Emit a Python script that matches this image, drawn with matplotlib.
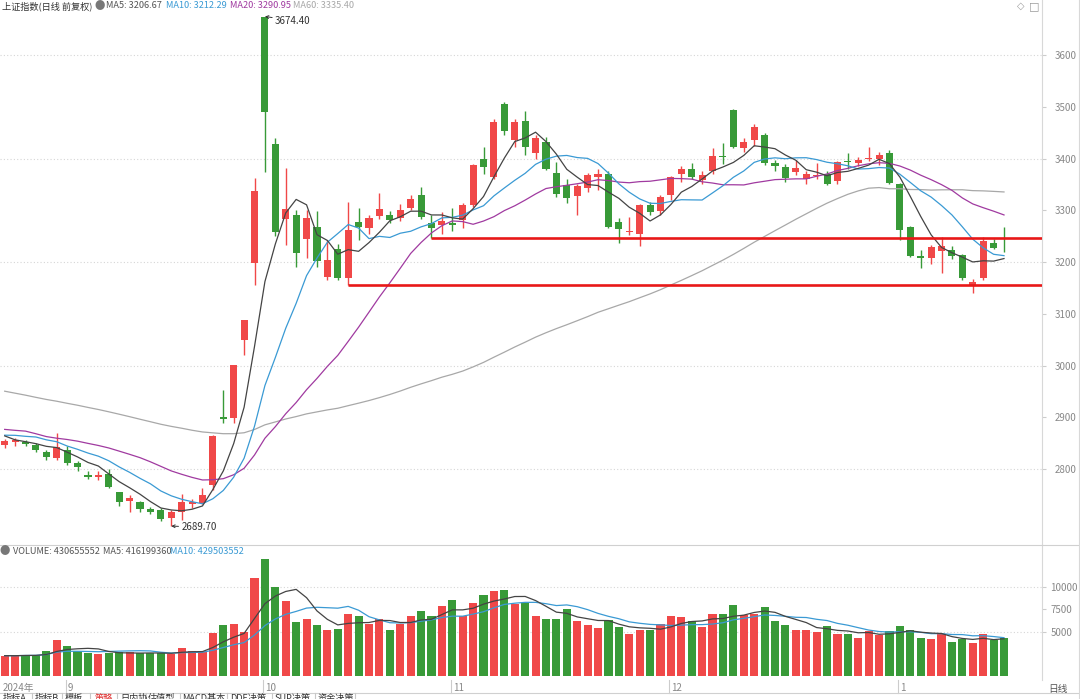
import numpy as np
import pandas as pd
import matplotlib
matplotlib.use('Agg')
import matplotlib.pyplot as plt
from matplotlib.transforms import blended_transform_factory

plt.rcParams['font.family'] = ['Noto Sans CJK SC', 'DejaVu Sans']

# 上证指数 日线, 2024-08-23 .. 2025-01-16
dates = ["2024-08-23", "2024-08-26", "2024-08-27", "2024-08-28", "2024-08-29", "2024-08-30",
         "2024-09-02", "2024-09-03", "2024-09-04", "2024-09-05", "2024-09-06", "2024-09-09",
         "2024-09-10", "2024-09-11", "2024-09-12", "2024-09-13", "2024-09-18", "2024-09-19",
         "2024-09-20", "2024-09-23", "2024-09-24", "2024-09-25", "2024-09-26", "2024-09-27",
         "2024-09-30", "2024-10-08", "2024-10-09", "2024-10-10", "2024-10-11", "2024-10-14",
         "2024-10-15", "2024-10-16", "2024-10-17", "2024-10-18", "2024-10-21", "2024-10-22",
         "2024-10-23", "2024-10-24", "2024-10-25", "2024-10-28", "2024-10-29", "2024-10-30",
         "2024-10-31", "2024-11-01", "2024-11-04", "2024-11-05", "2024-11-06", "2024-11-07",
         "2024-11-08", "2024-11-11", "2024-11-12", "2024-11-13", "2024-11-14", "2024-11-15",
         "2024-11-18", "2024-11-19", "2024-11-20", "2024-11-21", "2024-11-22", "2024-11-25",
         "2024-11-26", "2024-11-27", "2024-11-28", "2024-11-29", "2024-12-02", "2024-12-03",
         "2024-12-04", "2024-12-05", "2024-12-06", "2024-12-09", "2024-12-10", "2024-12-11",
         "2024-12-12", "2024-12-13", "2024-12-16", "2024-12-17", "2024-12-18", "2024-12-19",
         "2024-12-20", "2024-12-23", "2024-12-24", "2024-12-25", "2024-12-26", "2024-12-27",
         "2024-12-30", "2024-12-31", "2025-01-02", "2025-01-03", "2025-01-06", "2025-01-07",
         "2025-01-08", "2025-01-09", "2025-01-10", "2025-01-13", "2025-01-14", "2025-01-15",
         "2025-01-16"]

opens = [2846, 2852, 2852, 2847, 2833, 2821, 2836, 2812, 2788, 2784, 2790, 2755,
         2738, 2737, 2722, 2720, 2705, 2717, 2732, 2735, 2770, 2901, 2899, 3049,
         3198, 3674.40, 3428, 3283, 3291, 3244, 3268, 3171, 3225, 3169, 3277, 3266,
         3289, 3291, 3285, 3304, 3329, 3275, 3271, 3276, 3281, 3310, 3400, 3364,
         3505, 3436, 3472, 3410, 3432, 3372, 3349, 3327, 3343, 3364, 3370, 3277,
         3258, 3254, 3310, 3299, 3329, 3370, 3380, 3358, 3375, 3405, 3494, 3420,
         3436, 3446, 3391, 3384, 3374, 3360, 3366, 3370, 3356, 3395, 3391, 3399,
         3399, 3411, 3351, 3268, 3212, 3208, 3221, 3223, 3214, 3154, 3169, 3237,
         3237]
highs = [2858, 2860, 2856, 2850, 2836, 2870, 2845, 2816, 2797, 2796, 2800, 2756,
         2749, 2739, 2727, 2725, 2720, 2752, 2742, 2763, 2865, 2952, 3001, 3088,
         3362, 3674.40, 3440, 3382, 3300, 3300, 3299, 3242, 3235, 3316, 3304, 3290,
         3334, 3298, 3312, 3330, 3345, 3290, 3297, 3305, 3314, 3390, 3422, 3476,
         3509, 3476, 3492, 3445, 3442, 3393, 3360, 3350, 3372, 3380, 3375, 3285,
         3287, 3312, 3315, 3330, 3366, 3385, 3391, 3375, 3420, 3430, 3496, 3440,
         3467, 3450, 3398, 3390, 3397, 3375, 3391, 3375, 3395, 3411, 3402, 3422,
         3412, 3416, 3352, 3270, 3223, 3233, 3248, 3230, 3215, 3168, 3248, 3245,
         3268]
lows = [2840, 2845, 2845, 2833, 2818, 2817, 2808, 2797, 2780, 2779, 2763, 2728,
        2716, 2716, 2714, 2700, 2689.70, 2702, 2725, 2733, 2760, 2889, 2889, 3020,
        3155, 3374, 3250, 3233, 3190, 3208, 3190, 3165, 3165, 3155, 3242, 3255,
        3283, 3276, 3280, 3300, 3283, 3246, 3254, 3260, 3266, 3306, 3370, 3360,
        3446, 3422, 3407, 3400, 3378, 3325, 3314, 3290, 3335, 3340, 3265, 3237,
        3253, 3231, 3290, 3290, 3320, 3355, 3360, 3350, 3370, 3390, 3420, 3413,
        3425, 3388, 3375, 3355, 3368, 3350, 3360, 3348, 3350, 3380, 3385, 3395,
        3388, 3350, 3242, 3209, 3188, 3196, 3179, 3205, 3165, 3141, 3165, 3225,
        3219]
closes = [2854.37, 2855.52, 2848.77, 2837.43, 2823.11, 2842.21, 2811.04, 2802.98, 2784.28,
          2788.31, 2765.81, 2736.49, 2744.19, 2721.80, 2717.12, 2704.09, 2717.28, 2736.02,
          2736.81, 2748.92, 2863.13, 2896.31, 3000.95, 3087.53, 3336.50, 3489.78, 3258.86,
          3301.93, 3217.74, 3284.32, 3201.29, 3202.95, 3169.38, 3261.56, 3268.11, 3285.87,
          3302.80, 3280.26, 3299.70, 3322.20, 3286.41, 3266.24, 3279.82, 3272.01, 3310.21,
          3386.99, 3383.81, 3470.66, 3452.30, 3470.07, 3421.97, 3439.28, 3379.84, 3330.73,
          3323.85, 3346.01, 3367.99, 3370.40, 3267.19, 3263.76, 3259.76, 3309.78, 3295.70,
          3326.46, 3363.98, 3378.81, 3364.65, 3368.07, 3404.08, 3402.53, 3422.66, 3432.49,
          3461.50, 3391.88, 3386.33, 3361.49, 3382.21, 3370.03, 3368.07, 3351.26, 3393.53,
          3393.35, 3398.08, 3400.14, 3407.33, 3351.76, 3262.56, 3211.43, 3206.92, 3229.64,
          3230.17, 3211.39, 3168.52, 3160.76, 3240.94, 3227.12, 3236.03]
# closes before the visible window, only used to warm up the moving averages
prev_closes = [3124.04, 3109.57, 3111.02, 3091.68, 3086.81,
               3078.49, 3091.20, 3065.40, 3048.79, 3051.28, 3028.05, 3037.47, 3028.92, 3032.63,
               3015.89, 3030.25, 3018.05, 3005.44, 2998.14, 2963.10, 2950.00, 2972.53, 2945.85,
               2967.40,
               2994.73, 2997.01, 2982.38, 2957.57, 2949.93, 2922.45, 2959.37, 2939.36, 2970.39,
               2971.30, 2974.01, 2976.30, 2962.77, 2977.13, 2982.31, 2964.22, 2915.37, 2901.95,
               2886.74, 2890.90, 2891.85, 2879.30, 2938.75,
               2932.39, 2905.34, 2860.70, 2867.28, 2869.90, 2869.83, 2862.19, 2858.20, 2867.95,
               2850.65, 2877.36, 2879.43, 2893.67, 2866.66, 2856.58, 2848.77]
# volume in units of 1e5
volumes = [2304, 2304, 2377, 2377, 2816, 4021, 3400, 2779, 2633, 2487, 2597, 2670,
           2670, 2560, 2560, 2560, 2524, 3217, 2852, 2670, 4861, 5700, 5810, 4970,
           11069, 13150, 9973, 8402, 6139, 6394, 5737, 5225, 5298, 6979, 6760, 5883,
           6394, 5225, 5883, 6760, 7307, 6760, 7892, 8512, 6760, 8220, 9060, 9607,
           9680, 8147, 8257, 6760, 6394, 6394, 7489, 6248, 5737, 5408, 6357, 5481,
           4751, 5153, 5153, 5847, 6760, 6686, 6248, 5481, 6979, 6979, 7965, 6869,
           6979, 7782, 6248, 5700, 5153, 5225, 4970, 5591, 4788, 4788, 4239, 5116,
           4605, 5043, 5591, 5153, 4312, 4130, 4788, 3838, 4130, 3765, 4751, 4057,
           4312]

# values printed in the two legend rows
price_legend = [('MA5', '3206.67'), ('MA10', '3212.29'), ('MA20', '3290.95'), ('MA60', '3335.40')]
vol_legend = [('VOLUME', '430655552'), ('MA5', '416199360'), ('MA10', '429503552')]

support_levels = [3246, 3156]
support_start = [41, 33]

price_ticks = [2800, 2900, 3000, 3100, 3200, 3300, 3400, 3500, 3600]
price_grid = [2800, 3000, 3200, 3400, 3600]
vol_ticks = [5000, 7500, 10000]
vol_grid = [5000, 10000]

RED = '#F04848'
GREEN = '#389A38'
C_MA5 = '#444444'
C_MA10 = '#3A9AD4'
C_MA20 = '#A03AA0'
C_MA60 = '#A8A8A8'
GRAY_TXT = '#888888'

W, H = 1080, 699
def fx(px):
    return px / W
def fy(py):
    return 1 - py / H

o = np.array(opens, dtype=float)
h = np.array(highs, dtype=float)
l = np.array(lows, dtype=float)
c = np.array(closes, dtype=float)
v = np.array(volumes, dtype=float)
x = np.arange(len(c))

allc = pd.Series(prev_closes + closes)
n0 = len(prev_closes)
ma = {k: allc.rolling(k).mean().values[n0:] for k in (5, 10, 20, 60)}
vs = pd.Series(v)
vma5 = vs.rolling(5, min_periods=1).mean().values
vma10 = vs.rolling(10, min_periods=1).mean().values

up = c >= o
col = np.where(up, RED, GREEN)

fig = plt.figure(figsize=(10.8, 6.99), dpi=100)
fig.patch.set_facecolor('white')
ax = fig.add_axes([0, fy(544), 1042 / W, 544 / H])
axv = fig.add_axes([0, fy(680), 1042 / W, 135 / H])

XL = (-0.45, 99.65)

# price panel
for g in price_grid:
    ax.axhline(g, color='#d6d6d6', lw=0.8, ls=(0, (1, 2)), zorder=0)
ax.vlines(x, l, h, colors=col, lw=1, zorder=2)
ax.bar(x, np.maximum(np.abs(c - o), 1.3), bottom=np.minimum(o, c), width=0.68,
       color=col, lw=0, zorder=3)
ax.plot(x, ma[60], color=C_MA60, lw=0.9, zorder=4)
ax.plot(x, ma[20], color=C_MA20, lw=0.9, zorder=4)
ax.plot(x, ma[10], color=C_MA10, lw=0.9, zorder=4)
ax.plot(x, ma[5], color=C_MA5, lw=0.9, zorder=4)
for lvl, s in zip(support_levels, support_start):
    ax.hlines(lvl, s, XL[1], colors='#E81818', lw=1.9, zorder=5)

ihi = int(np.argmax(h))
ilo = int(np.argmin(l))
ax.annotate(f'{h[ihi]:.2f}', xy=(ihi, h[ihi]), xytext=(10, -4), textcoords='offset pixels',
            ha='left', va='center', fontsize=7, color='#333333',
            arrowprops=dict(arrowstyle='->', color='#333333', lw=0.7, shrinkA=0, shrinkB=0,
                            mutation_scale=5))
ax.annotate(f'{l[ilo]:.2f}', xy=(ilo, l[ilo]), xytext=(10, -1), textcoords='offset pixels',
            ha='left', va='center', fontsize=7, color='#333333',
            arrowprops=dict(arrowstyle='->', color='#333333', lw=0.7, shrinkA=0, shrinkB=0,
                            mutation_scale=5))

ax.set_ylim(2655.1, 3706.3)
ax.set_yticks(price_ticks)

# volume panel
for g in vol_grid:
    axv.axhline(g, color='#d6d6d6', lw=0.8, ls=(0, (1, 2)), zorder=0)
axv.bar(x, v, width=0.78, color=col, lw=0, zorder=2)
axv.plot(x, vma10, color=C_MA10, lw=0.9, zorder=3)
axv.plot(x, vma5, color=C_MA5, lw=0.9, zorder=3)
axv.set_ylim(-424, 14725)
axv.set_yticks(vol_ticks)

for a, pad in ((ax, 6), (axv, 3)):
    a.set_xlim(*XL)
    a.set_facecolor('white')
    for s in ('left', 'top', 'bottom'):
        a.spines[s].set_visible(False)
    a.spines['right'].set_color('#d8d8d8')
    a.yaxis.tick_right()
    a.tick_params(axis='y', direction='out', length=3, color='#cccccc',
                  labelsize=7, labelcolor=GRAY_TXT, pad=pad)
    a.set_xticks([])

# frame lines
fig.add_artist(plt.Line2D([0, 1], [fy(545), fy(545)], color='#d0d0d0', lw=0.8))
fig.add_artist(plt.Line2D([0, 1], [fy(693), fy(693)], color='#d0d0d0', lw=0.8))
fig.add_artist(plt.Line2D([fx(1078.5), fx(1078.5)], [0, 1], color='#d8d8d8', lw=0.8))

# header
FS = 6.6
ty = fy(6)
fig.text(fx(2), ty, '上证指数(日线 前复权)', fontsize=FS, color='#333333', va='center')
fig.text(fx(100), ty, '●', fontsize=7.5, color='#777777', va='center', ha='center')
leg_cols = [C_MA5, C_MA10, C_MA20, C_MA60]
leg_x = [106, 166, 230, 293]
for (name, val), lc, lx in zip(price_legend, leg_cols, leg_x):
    fig.text(fx(lx), ty, f'{name}: {val}', fontsize=FS, va='center',
             color='#555555' if name == 'MA5' else lc)
fig.text(fx(1021), ty, '◇', fontsize=7, color='#999999', va='center', ha='center',
         family='DejaVu Sans')
fig.text(fx(1034), ty, '□', fontsize=8, color='#999999', va='center', ha='center',
         family='DejaVu Sans')

vy = fy(551)
fig.text(fx(5), vy, '●', fontsize=7.5, color='#777777', va='center', ha='center')
vleg_x = [13, 103, 170]
vleg_c = ['#555555', '#555555', C_MA10]
for (name, val), lc, lx in zip(vol_legend, vleg_c, vleg_x):
    fig.text(fx(lx), vy, f'{name}: {val}', fontsize=FS, color=lc, va='center')

# date axis
tr = blended_transform_factory(axv.transData, fig.transFigure)
fig.text(fx(3), fy(688), '2024年', fontsize=7, color=GRAY_TXT, va='center')
months = [d[5:7] for d in dates]
for i in range(1, len(dates)):
    if months[i] != months[i - 1]:
        xi = i - 0.15
        axv.add_artist(plt.Line2D([xi, xi], [fy(680), fy(693)], transform=tr,
                                  color='#cccccc', lw=0.8, clip_on=False))
        axv.text(xi + 0.2, fy(688), str(int(months[i])), transform=tr, fontsize=7,
                 color=GRAY_TXT, va='center', ha='left', clip_on=False)
fig.text(fx(1058), fy(689), '日线', fontsize=7, color='#555555', va='center', ha='center')

# bottom tabs (cut by the window edge)
tabs = ['指标A', '指标B', '模板', '策略', '日内协', '估值型', 'MACD基本', 'DDE决策', 'SUP决策', '资金决策']
tab_x = [3, 35, 65, 95, 120, 148, 182, 230, 275, 318]
seps = [32, 62, 90, 117, 146, 180, 227, 272, 315, 355]
for t, tx in zip(tabs, tab_x):
    fig.text(fx(tx), fy(694), t, fontsize=6.6, va='top',
             color='#E03030' if t == '策略' else '#333333')
for sx in seps:
    fig.add_artist(plt.Line2D([fx(sx), fx(sx)], [0, fy(693)], color='#c8c8c8', lw=0.8))

fig.savefig('out.png', dpi=100, facecolor='white')
